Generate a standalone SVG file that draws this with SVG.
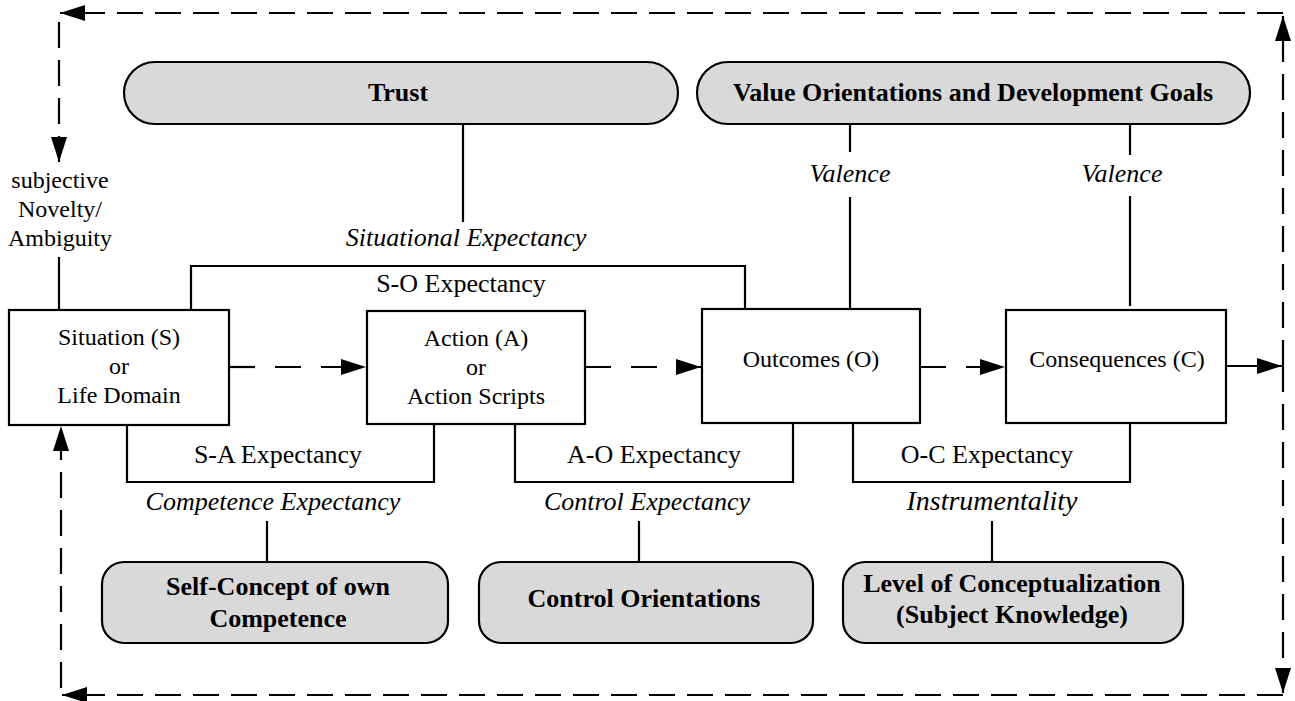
<svg xmlns="http://www.w3.org/2000/svg" width="1295" height="701" viewBox="0 0 1295 701">
  <defs>
    <marker id="ah" viewBox="0 0 25 16" refX="25" refY="8" markerWidth="25" markerHeight="16" orient="auto" markerUnits="userSpaceOnUse">
      <path d="M0,0 L25,8 L0,16 z" fill="#000"/>
    </marker>
  </defs>
  <style>
    text { font-family: "Liberation Serif", "Times New Roman", serif; fill: #000; text-anchor: middle; }
    .box { fill: #fff; stroke: #000; stroke-width: 2.2; }
    .pill { fill: #d9d9d9; stroke: #000; stroke-width: 2.2; }
    .ln { fill: none; stroke: #000; stroke-width: 2.2; }
    .dash { fill: none; stroke: #000; stroke-width: 2.2; stroke-dasharray: 26 20; }
    .loop { fill: none; stroke: #000; stroke-width: 2.2; stroke-dasharray: 26 12; }
    .bt { font-size: 24px; }
    .lab { font-size: 26px; }
    .it { font-size: 26px; font-style: italic; }
    .bold { font-size: 26px; font-weight: bold; }
  </style>
  <rect width="1295" height="701" fill="#fff"/>

  <!-- connectors -->
  <g id="connectors">
    <!-- feedback loop -->
    <path class="loop" d="M1283,366 V16" marker-end="url(#ah)"/>
    <path class="loop" d="M1283,13 H60" marker-end="url(#ah)"/>
    <path class="loop" d="M59,22 V162" marker-end="url(#ah)"/>
    <path class="loop" d="M1283,366 V693" marker-end="url(#ah)"/>
    <path class="loop" d="M1283,695 H62" marker-end="url(#ah)"/>
    <path class="loop" d="M61,688 V426" marker-end="url(#ah)"/>
    <!-- novelty -->
    <path class="ln" d="M59,257 V310"/>
    <!-- main flow -->
    <path class="dash" d="M229,367 H366" marker-end="url(#ah)"/>
    <path class="dash" d="M585,367 H701" marker-end="url(#ah)"/>
    <path class="dash" d="M920,367 H1005" marker-end="url(#ah)"/>
    <path class="ln" d="M1227,366 H1282" marker-end="url(#ah)"/>
    <!-- S-O expectancy -->
    <path class="ln" d="M191,310 V266 H745 V309"/>
    <!-- trust -->
    <path class="ln" d="M463,124 V222"/>
    <!-- valence -->
    <path class="ln" d="M850,124 V152 M850,197 V309"/>
    <path class="ln" d="M1130,124 V155 M1130,196 V306"/>
    <!-- S-A, A-O, O-C expectancies -->
    <path class="ln" d="M127,425 V482 H434 V424"/>
    <path class="ln" d="M515,424 V482 H793 V423"/>
    <path class="ln" d="M853,423 V482 H1130 V423"/>
    <!-- to bottom nodes -->
    <path class="ln" d="M267,521 V562"/>
    <path class="ln" d="M639,521 V562"/>
    <path class="ln" d="M992,521 V562"/>
  </g>

  <!-- connector labels -->
  <g id="labels">
    <text class="bt" x="60" y="188">subjective</text>
    <text class="bt" x="60" y="217">Novelty/</text>
    <text class="bt" x="60" y="246">Ambiguity</text>
    <text class="it" x="466" y="246">Situational Expectancy</text>
    <text class="lab" x="461" y="292">S-O Expectancy</text>
    <text class="it" x="850" y="182">Valence</text>
    <text class="it" x="1122" y="182">Valence</text>
    <text class="lab" x="278" y="463">S-A Expectancy</text>
    <text class="lab" x="654" y="463">A-O Expectancy</text>
    <text class="lab" x="987" y="463">O-C Expectancy</text>
    <text class="it" x="273" y="510">Competence Expectancy</text>
    <text class="it" x="647" y="510">Control Expectancy</text>
    <text class="it" x="992" y="510" style="font-size:28px">Instrumentality</text>
  </g>

  <!-- nodes -->
  <g id="trust">
    <rect class="pill" x="124" y="62" width="554" height="62" rx="31"/>
    <text class="bold" x="398" y="101">Trust</text>
  </g>
  <g id="values">
    <rect class="pill" x="697" y="62" width="553" height="62" rx="31"/>
    <text class="bold" x="973" y="101">Value Orientations and Development Goals</text>
  </g>
  <g id="situation">
    <rect class="box" x="9" y="310" width="220" height="115"/>
    <text class="bt" x="119" y="345">Situation (S)</text>
    <text class="bt" x="119" y="374">or</text>
    <text class="bt" x="119" y="403">Life Domain</text>
  </g>
  <g id="action">
    <rect class="box" x="367" y="311" width="218" height="113"/>
    <text class="bt" x="476" y="346">Action (A)</text>
    <text class="bt" x="476" y="375">or</text>
    <text class="bt" x="476" y="404">Action Scripts</text>
  </g>
  <g id="outcomes">
    <rect class="box" x="702" y="309" width="218" height="114"/>
    <text class="bt" x="811" y="367">Outcomes (O)</text>
  </g>
  <g id="consequences">
    <rect class="box" x="1006" y="310" width="220" height="113"/>
    <text class="bt" x="1117" y="367">Consequences (C)</text>
  </g>
  <g id="self-concept">
    <rect class="pill" x="102" y="562" width="346" height="81" rx="22"/>
    <text class="bold" x="278" y="595">Self-Concept of own</text>
    <text class="bold" x="278" y="627">Competence</text>
  </g>
  <g id="control-orientations">
    <rect class="pill" x="479" y="562" width="334" height="81" rx="22"/>
    <text class="bold" x="644" y="607">Control Orientations</text>
  </g>
  <g id="conceptualization">
    <rect class="pill" x="843" y="562" width="340" height="81" rx="22"/>
    <text class="bold" x="1012" y="592">Level of Conceptualization</text>
    <text class="bold" x="1012" y="623">(Subject Knowledge)</text>
  </g>
</svg>
